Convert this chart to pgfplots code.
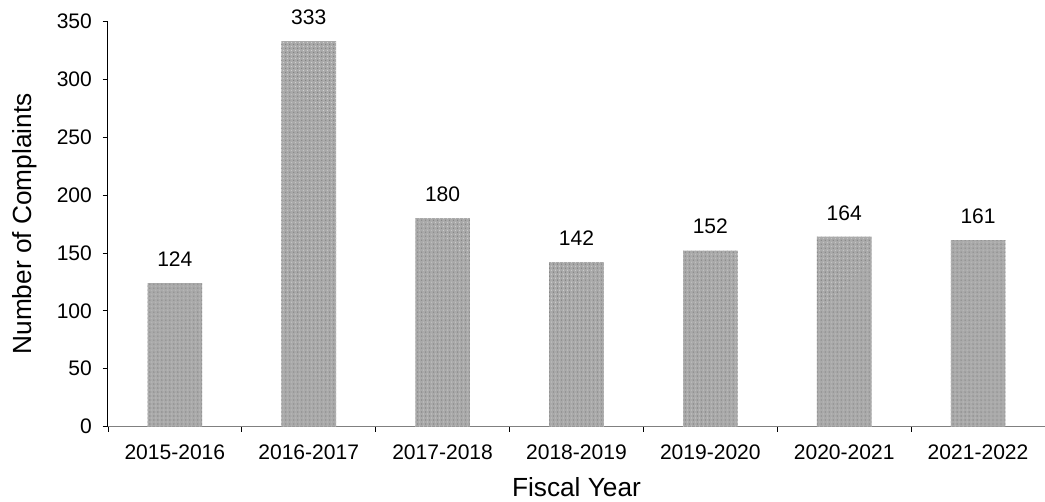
\documentclass[border=0pt]{standalone}
\usepackage{fontspec}
\setmainfont{Liberation Sans}
\usepackage{pgfplots}
\pgfplotsset{compat=1.18}
\usetikzlibrary{patterns}
\definecolor{barfill}{RGB}{170,170,170}
\definecolor{axisgray}{RGB}{128,128,128}
\begin{document}
\begin{tikzpicture}
\begin{axis}[
  name=ax,
  scale only axis,
  width=703.5pt, height=304.1pt,
  xmin=-0.5, xmax=6.5,
  ymin=0, ymax=350,
  axis x line*=bottom, axis y line*=left,
  x axis line style={axisgray, line width=1pt, -},
  y axis line style={black, line width=0.6pt, -},
  xtick={-0.5,0.5,...,6.5},
  xticklabels={},
  extra x ticks={0,1,2,3,4,5,6},
  extra x tick labels={2015-2016,2016-2017,2017-2018,2018-2019,2019-2020,2020-2021,2021-2022},
  extra x tick style={major tick length=0pt, tick label style={yshift=-10.5pt}},
  ytick={0,50,...,350},
  yticklabel style={xshift=-4.5pt},
  tick style={black, line width=0.5pt},
  major tick length=4pt,
  tick align=outside,
  tick label style={font=\fontsize{15.8}{18}\selectfont},
  /pgf/number format/assume math mode=true,
  xlabel={Fiscal Year}, ylabel={Number of Complaints},
  label style={font=\fontsize{19.7}{23}\selectfont},
  xlabel style={at={(axis description cs:0.5,0)}, anchor=base, yshift=-52.5pt},
  ylabel style={at={(axis description cs:-0.0885,0.5)}, anchor=center, rotate=0},
  clip=false,
]
\addplot[ybar, bar width=41pt, draw=none,
  fill=barfill,
  postaction={pattern=crosshatch dots, pattern color=black!50},
  postaction={pattern=dots, pattern color=white!85!black},
  nodes near coords,
  every node near coord/.append style={font=\fontsize{15.8}{18}\selectfont, black, anchor=base, yshift=12.5pt},
] coordinates {(0,124) (1,333) (2,180) (3,142) (4,152) (5,164) (6,161)};
\end{axis}
\pgfresetboundingbox
\path ([xshift=-81pt,yshift=-56.6pt]ax.south west) rectangle ([yshift=16.1pt]ax.north east);
\end{tikzpicture}
\end{document}
